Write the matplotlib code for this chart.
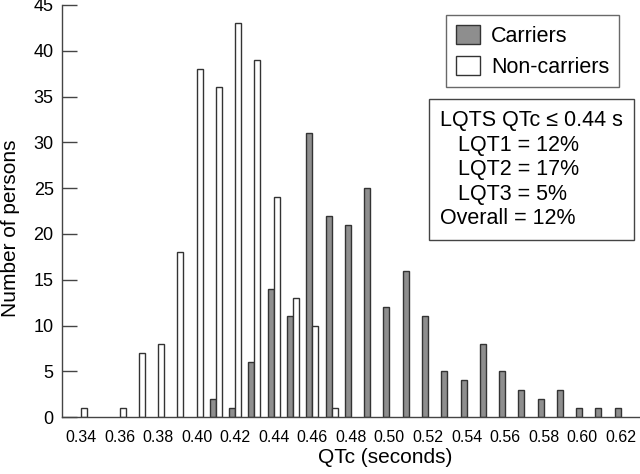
import numpy as np
import matplotlib
matplotlib.use('Agg')
import matplotlib.pyplot as plt

plt.rcParams['font.family'] = ['Liberation Sans', 'DejaVu Sans']

# QTc bins (seconds)
qtc = [0.34, 0.35, 0.36, 0.37, 0.38, 0.39, 0.40, 0.41, 0.42, 0.43, 0.44,
       0.45, 0.46, 0.47, 0.48, 0.49, 0.50, 0.51, 0.52, 0.53, 0.54, 0.55,
       0.56, 0.57, 0.58, 0.59, 0.60, 0.61, 0.62]
carriers = [0, 0, 0, 0, 0, 0, 0, 2, 1, 6, 14,
            11, 31, 22, 21, 25, 12, 16, 11, 5, 4, 8,
            5, 3, 2, 3, 1, 1, 1]
non_carriers = [1, 0, 1, 7, 8, 18, 38, 36, 43, 39, 24,
                13, 10, 1, 0, 0, 0, 0, 0, 0, 0, 0,
                0, 0, 0, 0, 0, 0, 0]
xtick_vals = [0.34, 0.36, 0.38, 0.40, 0.42, 0.44, 0.46, 0.48, 0.50,
              0.52, 0.54, 0.56, 0.58, 0.60, 0.62]

fig = plt.figure(figsize=(6.4, 4.74), dpi=100)
ax = fig.add_axes([0.097, 0.12, 0.903, 0.8695])

w = 0.0031
x = np.array(qtc)
edge = '#333333'
cx = x[np.array(carriers) > 0]
cv = np.array(carriers)[np.array(carriers) > 0]
nx = x[np.array(non_carriers) > 0]
nv = np.array(non_carriers)[np.array(non_carriers) > 0]
b1 = ax.bar(cx, cv, w, align='edge', color='#8e8e8e', edgecolor=edge, linewidth=1.0)
b2 = ax.bar(nx, nv, w, align='edge', color='white', edgecolor=edge, linewidth=1.0)
# carriers sit just left of the tick, non-carriers just right
for r in b1:
    r.set_x(r.get_x() - w)

ax.set_xlim(0.3302, 0.63)
ax.set_ylim(0, 45)
ax.set_yticks(range(0, 46, 5))
ax.set_xticks(xtick_vals)
ax.set_xticklabels(['%.2f' % v for v in xtick_vals], fontsize=11.5)
ax.tick_params(axis='y', direction='in', length=11, width=1, color='#444444',
               labelsize=13, pad=6)
ax.tick_params(axis='x', length=0, pad=9)

for s in ['top', 'right']:
    ax.spines[s].set_visible(False)
for s in ['left', 'bottom']:
    ax.spines[s].set_color('#444444')
    ax.spines[s].set_linewidth(1.0)

ax.set_xlabel('QTc (seconds)', fontsize=15)
ax.xaxis.set_label_coords(0.559, -0.075)
ax.set_ylabel('Number of persons', fontsize=15)
ax.yaxis.set_label_coords(-0.072, 0.459)

leg = ax.legend([b1[0], b2[0]], ['Carriers', 'Non-carriers'],
                loc='upper right', bbox_to_anchor=(619 / 640, 1 - 15 / 474),
                bbox_transform=fig.transFigure, fontsize=15.5, frameon=True,
                fancybox=False, handlelength=1.15, handleheight=1.0,
                labelspacing=0.42, borderpad=0.45, handletextpad=0.5,
                borderaxespad=0)
leg.get_frame().set_edgecolor('#444444')
leg.get_frame().set_linewidth(1.0)

txt = ('LQTS QTc \u2264 0.44 s\n'
       '   LQT1 = 12%\n'
       '   LQT2 = 17%\n'
       '   LQT3 = 5%\n'
       'Overall = 12%')
fig.text(440 / 640, 1 - 110 / 474, txt, fontsize=15.5, va='top', ha='left',
         linespacing=1.22,
         bbox=dict(boxstyle='square,pad=0.5', facecolor='white',
                   edgecolor='#444444', linewidth=1.0))

fig.savefig('out.png', dpi=100)
